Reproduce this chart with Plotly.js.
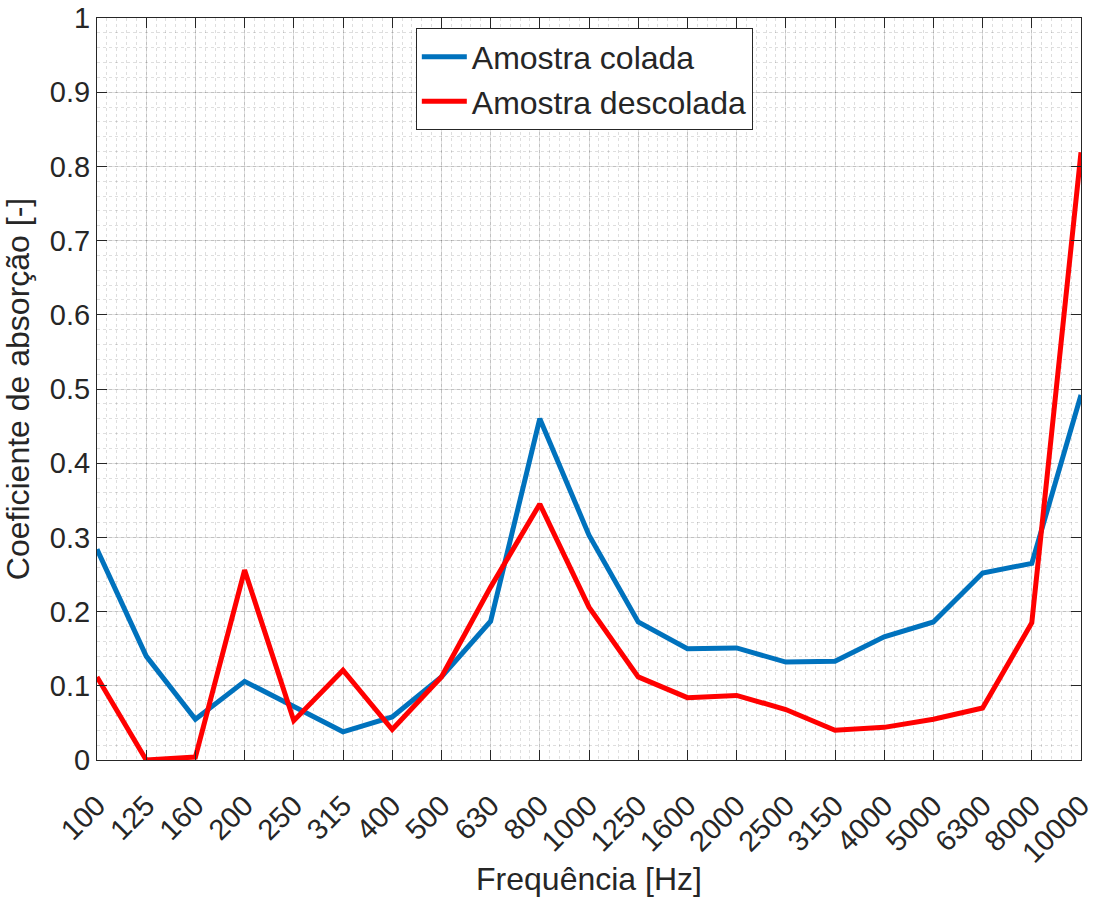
<!DOCTYPE html>
<html>
<head>
<meta charset="utf-8">
<script src="https://cdn.plot.ly/plotly-3.0.1.min.js"></script>
<style>html,body{margin:0;padding:0;background:#fff;}</style>
</head>
<body>
<div id="chart" style="width:1106px;height:897px;"></div>
<script>
const freqLabels = ["100","125","160","200","250","315","400","500","630","800","1000","1250","1600","2000","2500","3150","4000","5000","6300","8000","10000"];
const colada = [0.284,0.140,0.055,0.106,0.072,0.038,0.058,0.112,0.187,0.460,0.303,0.186,0.150,0.151,0.132,0.133,0.166,0.186,0.252,0.265,0.492];
const descolada = [0.112,0.000,0.004,0.256,0.053,0.121,0.041,0.112,0.233,0.345,0.206,0.112,0.084,0.087,0.068,0.040,0.044,0.055,0.070,0.185,0.819];
const yTicks = [0,0.1,0.2,0.3,0.4,0.5,0.6,0.7,0.8,0.9,1];

const xIdx = freqLabels.map((_, i) => i);
const txt = '#262626';
const font = {family: 'Liberation Sans, Arial, sans-serif', color: txt};

const traces = [
  {x: xIdx, y: colada, type: 'scatter', mode: 'lines', name: 'Amostra colada',
   line: {color: '#0072BD', width: 5}},
  {x: xIdx, y: descolada, type: 'scatter', mode: 'lines', name: 'Amostra descolada',
   line: {color: '#FF0000', width: 5}}
];

const layout = {
  width: 1106, height: 897,
  margin: {l: 97, r: 25, t: 18, b: 137},
  paper_bgcolor: '#fff', plot_bgcolor: '#fff',
  font: Object.assign({size: 29}, font),
  showlegend: true,
  legend: {x: 0.324, y: 0.986, xanchor: 'left', yanchor: 'top',
    bgcolor: '#fff', bordercolor: txt, borderwidth: 1, itemwidth: 45,
    font: Object.assign({size: 32, color: '#000'}, font), tracegroupgap: 0},
  xaxis: {
    range: [0, freqLabels.length - 1],
    tickmode: 'array', tickvals: xIdx, ticktext: freqLabels,
    tickangle: -45, ticks: 'inside', ticklen: 10, tickcolor: txt, tickwidth: 1,
    ticklabelstandoff: 16,
    showline: true, linecolor: txt, linewidth: 1, mirror: 'ticks',
    showgrid: true, gridcolor: 'rgba(0,0,0,0.13)', gridwidth: 1,
    minor: {dtick: 0.2, showgrid: true, gridcolor: 'rgba(0,0,0,0.13)', griddash: 'dot', gridwidth: 1, ticks: ''},
    zeroline: false,
    tickfont: Object.assign({size: 29}, font),
    title: {text: 'Frequência [Hz]', font: Object.assign({size: 32}, font), standoff: 6}
  },
  yaxis: {
    range: [0, 1],
    tickmode: 'array', tickvals: yTicks, ticktext: yTicks.map(String),
    ticks: 'inside', ticklen: 10, tickcolor: txt, tickwidth: 1,
    showline: true, linecolor: txt, linewidth: 1, mirror: 'ticks',
    showgrid: true, gridcolor: 'rgba(0,0,0,0.13)', gridwidth: 1,
    minor: {dtick: 0.02, showgrid: true, gridcolor: 'rgba(0,0,0,0.13)', griddash: 'dot', gridwidth: 1, ticks: ''},
    zeroline: false,
    tickfont: Object.assign({size: 29}, font),
    title: {text: 'Coeficiente de absorção [-]', font: Object.assign({size: 32}, font), standoff: 10}
  }
};

Plotly.newPlot('chart', traces, layout, {displayModeBar: false, staticPlot: true});
</script>
</body>
</html>
